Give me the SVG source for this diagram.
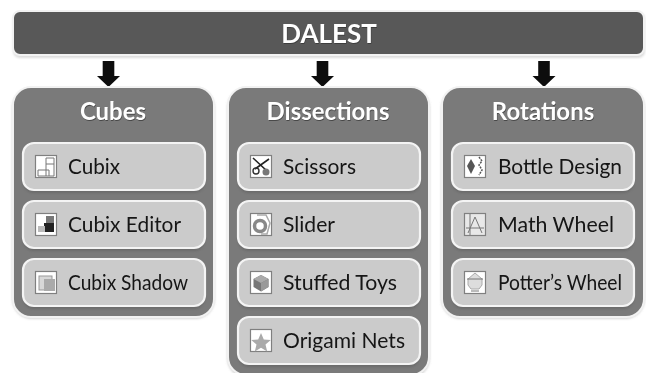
<svg xmlns="http://www.w3.org/2000/svg" width="646" height="373" viewBox="0 0 646 373">
<style>
text{font-family:Lato,"Open Sans","Liberation Sans",sans-serif}
.bar{fill:#595959;stroke:#f2f2f2;stroke-width:2}
.panel{fill:#7a7a7a;stroke:#f2f2f2;stroke-width:2}
.item{fill:#cbcbcb;stroke:#f4f4f4;stroke-width:2.2}
.shade{fill:#5e5e5e;opacity:.55}
.title{fill:#fff;font-weight:700;font-size:24px;text-anchor:middle}
.tshadow{fill:#333;opacity:.7;font-weight:700;font-size:24px;text-anchor:middle}
.label{fill:#141414;font-size:22px}
.icon{fill:#fff;stroke:#808080;stroke-width:1.2}
.ln{fill:none;stroke:#777;stroke-width:1}
.arrow{fill:#0d0d0d}
</style>
<defs>
<filter id="soft" x="-5%" y="-5%" width="110%" height="110%"><feGaussianBlur stdDeviation="0.5"/></filter>
<filter id="drop" x="-10%" y="-10%" width="120%" height="120%"><feGaussianBlur stdDeviation="1.2"/></filter>
<g id="itemBox">
<rect class="shade" x="0" y="2" width="182" height="48" rx="11" filter="url(#drop)"/>
<rect class="item" x="0" y="0" width="182" height="47" rx="11"/>
</g>
<path id="arrowShape" d="M-5.800 0h11.600v15h5.700l-11.500 11-11.500-11h5.700z"/>
</defs>
<rect width="646" height="373" fill="#fff"/>
<g filter="url(#soft)">
<g id="connectors">
<use href="#arrowShape" class="arrow" x="108.500" y="61"/>
<use href="#arrowShape" class="arrow" x="322.500" y="61"/>
<use href="#arrowShape" class="arrow" x="544" y="61"/>
</g>
<g id="dalest">
<rect x="13" y="12" width="632" height="46" rx="7" fill="#ccc" opacity=".7" filter="url(#drop)"/>
<rect class="bar" x="13" y="11" width="631" height="44" rx="7"/>
<text class="tshadow" x="329.500" y="44" style="font-size:26px">DALEST</text>
<text class="title" x="329" y="43" style="font-size:26px">DALEST</text>
</g>
<g id="cubes">
<rect x="12" y="88" width="203" height="231" rx="20" fill="#bbb" opacity=".6" filter="url(#drop)"/>
<rect class="panel" x="13" y="87" width="201" height="230" rx="18"/>
<text class="tshadow" x="113.500" y="121">Cubes</text>
<text class="title" x="113" y="120">Cubes</text>
<use href="#itemBox" x="23" y="143"/>
<use href="#itemBox" x="23" y="201"/>
<use href="#itemBox" x="23" y="259"/>
</g>
<g id="dissections">
<rect x="227" y="88" width="203" height="290" rx="20" fill="#bbb" opacity=".6" filter="url(#drop)"/>
<rect class="panel" x="228" y="87" width="201" height="288" rx="18"/>
<text class="tshadow" x="328.500" y="121">Dissections</text>
<text class="title" x="328" y="120">Dissections</text>
<use href="#itemBox" x="238" y="143"/>
<use href="#itemBox" x="238" y="201"/>
<use href="#itemBox" x="238" y="259"/>
<use href="#itemBox" x="238" y="317"/>
</g>
<g id="rotations">
<rect x="441" y="88" width="204" height="231" rx="20" fill="#bbb" opacity=".6" filter="url(#drop)"/>
<rect class="panel" x="442" y="87" width="202" height="230" rx="18"/>
<text class="tshadow" x="543.500" y="121">Rotations</text>
<text class="title" x="543" y="120">Rotations</text>
<use href="#itemBox" x="452" y="143"/>
<use href="#itemBox" x="452" y="201"/>
<use href="#itemBox" x="452" y="259"/>
</g>
<g id="item-cubix">
<rect class="icon" x="35.500" y="155.500" width="21" height="22"/>
<path class="ln" d="M38 170h11v6M38 170v6h16v-18h-8v18M46 164h8"/>
<text class="label" x="68" y="174" textLength="52" lengthAdjust="spacingAndGlyphs">Cubix</text>
</g>
<g id="item-cubix-editor">
<rect class="icon" x="35.500" y="213.500" width="21" height="22"/>
<rect x="46" y="216" width="8" height="8" fill="#777"/><rect x="44" y="223" width="10" height="9" fill="#222"/><rect x="38" y="226" width="7" height="6" fill="#bbb"/>
<text class="label" x="68" y="232" textLength="113" lengthAdjust="spacingAndGlyphs">Cubix Editor</text>
</g>
<g id="item-cubix-shadow">
<rect class="icon" x="35.500" y="271.500" width="21" height="22"/>
<rect x="39" y="276" width="13" height="14" fill="#d8d8d8" stroke="#999"/><rect x="44" y="279" width="11" height="12" fill="#aaa"/>
<text class="label" x="68" y="290" textLength="120" lengthAdjust="spacingAndGlyphs">Cubix Shadow</text>
</g>
<g id="item-scissors">
<rect class="icon" x="250.500" y="155.500" width="21" height="22"/>
<path d="M253 158l14 13M269 159l-14 10" fill="none" stroke="#222" stroke-width="1.600"/><circle cx="256" cy="171" r="3" fill="none" stroke="#333" stroke-width="1.400"/><circle cx="266" cy="172" r="3.500" fill="#777"/>
<text class="label" x="283" y="174" textLength="73" lengthAdjust="spacingAndGlyphs">Scissors</text>
</g>
<g id="item-slider">
<rect class="icon" x="250.500" y="213.500" width="21" height="22"/>
<circle cx="260" cy="226" r="5.500" fill="none" stroke="#888" stroke-width="3.500"/><path d="M257 215h9l4 8-3 11h-6" fill="none" stroke="#aaa" stroke-width="1.500"/>
<text class="label" x="283" y="232" textLength="52" lengthAdjust="spacingAndGlyphs">Slider</text>
</g>
<g id="item-stuffed-toys">
<rect class="icon" x="250.500" y="271.500" width="21" height="22"/>
<path d="M261 275l7.500 4v8l-7.500 4.500-7.500-4.500v-8z" fill="#777"/><path d="M253.500 279l7.500-4 7.500 4-7.500 4z" fill="#aaa"/><path d="M261 283l7.500-4v8l-7.500 4.500z" fill="#999"/>
<text class="label" x="283" y="290" textLength="114" lengthAdjust="spacingAndGlyphs">Stuffed Toys</text>
</g>
<g id="item-origami-nets">
<rect class="icon" x="250.500" y="329.500" width="21" height="22"/>
<path d="M261 333l2.800 6.500 7 .5-5.300 4.500 1.700 7-6.200-3.800-6.200 3.800 1.700-7-5.300-4.500 7-.5z" fill="#aaa"/>
<text class="label" x="283" y="348" textLength="122" lengthAdjust="spacingAndGlyphs">Origami Nets</text>
</g>
<g id="item-bottle-design">
<rect class="icon" x="464.500" y="155.500" width="21" height="22"/>
<path d="M471 159l-4 7 4 8 4-8z" fill="#555"/><path d="M479 157l3 4-3 4 3 5-3 5" fill="none" stroke="#555" stroke-width="1.500" stroke-dasharray="2 1"/>
<text class="label" x="498" y="174" textLength="124" lengthAdjust="spacingAndGlyphs">Bottle Design</text>
</g>
<g id="item-math-wheel">
<rect class="icon" x="464.500" y="213.500" width="21" height="22" style="fill:#e8e8e8"/>
<path class="ln" d="M468 233l7-16 7 16M466 228h18M470 214v21"/>
<text class="label" x="498" y="232" textLength="116" lengthAdjust="spacingAndGlyphs">Math Wheel</text>
</g>
<g id="item-potters-wheel">
<rect class="icon" x="464.500" y="271.500" width="21" height="22"/>
<path d="M475 273l7 6v6l-3 4h-8l-3-4v-6z" fill="#ddd" stroke="#aaa"/><path d="M467 279h16M471 291h8" fill="none" stroke="#777"/>
<text class="label" x="498" y="290" textLength="124" lengthAdjust="spacingAndGlyphs">Potter’s Wheel</text>
</g>
</g>
</svg>
